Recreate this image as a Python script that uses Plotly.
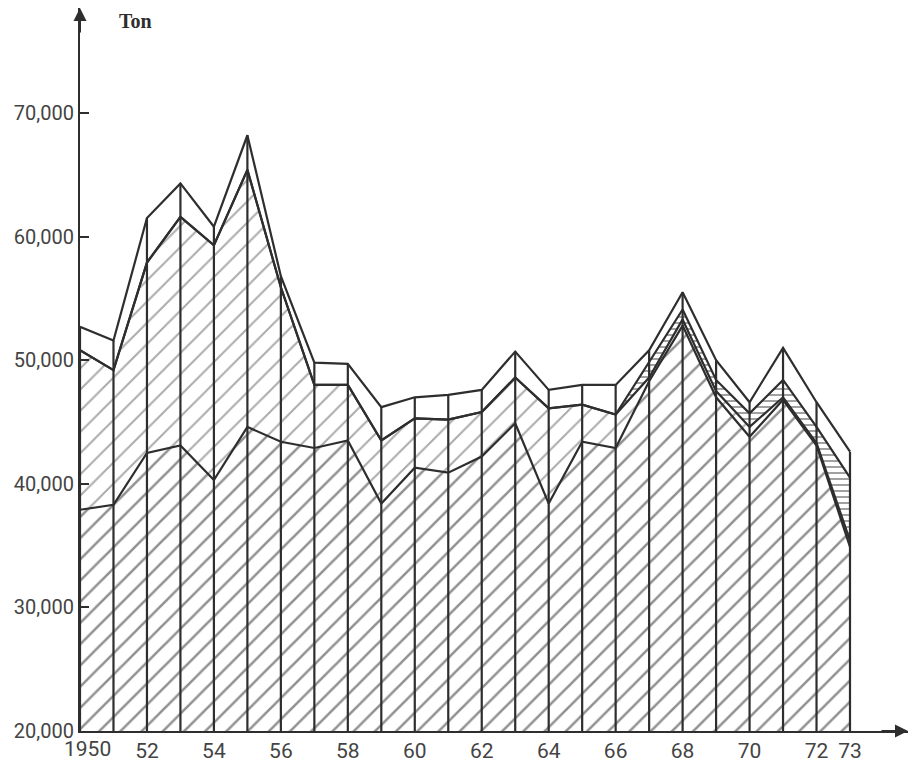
import plotly.graph_objects as go

years = list(range(1950, 1974))

# boundary levels of the stacked layers (tons)
level_bottom = [37900, 38300, 42500, 43100, 40300, 44600, 43400, 42900, 43500, 38400,
                41300, 40900, 42200, 44900, 38400, 43400, 42900, 48300, 52800, 47000,
                43800, 46800, 43100, 34900]
level_dotted = [50800, 49200, 57900, 61600, 59300, 65400, 55900, 48000, 48000, 43500,
                45300, 45200, 45800, 48600, 46100, 46400, 45600, 48600, 53300, 47500,
                44600, 47000, 43300, 35400]
level_striped = [50800, 49200, 57900, 61600, 59300, 65400, 55900, 48000, 48000, 43500,
                 45300, 45200, 45800, 48600, 46100, 46400, 45600, 49800, 54100, 48400,
                 45700, 48400, 44600, 40500]
level_total = [52700, 51600, 61500, 64300, 60800, 68200, 56800, 49800, 49700, 46200,
               47000, 47200, 47600, 50700, 47600, 48000, 48000, 50800, 55500, 50000,
               46600, 51000, 46600, 42600]

y_ticks = [20000, 30000, 40000, 50000, 60000, 70000]
y_ticktext = ["20,000", "30,000", "40,000", "50,000", "60,000", "70,000"]
x_ticks = [1952, 1954, 1956, 1958, 1960, 1962, 1964, 1966, 1968, 1970, 1972, 1973]
x_ticktext = ["52", "54", "56", "58", "60", "62", "64", "66", "68", "70", "72", "73"]

INK = "#2e2e2e"
LW = 2.2
Y0 = 20000

fig = go.Figure()


def band(lower, upper, fillcolor, pattern=None):
    xs = years + years[::-1]
    ys = list(upper) + list(lower)[::-1]
    fig.add_trace(go.Scatter(x=xs, y=ys, mode="none", fill="toself",
                             fillcolor=fillcolor, fillpattern=pattern,
                             hoverinfo="skip", showlegend=False))


base = [Y0] * len(years)
band(base, level_bottom, "white",
     dict(shape="/", size=15, solidity=0.17, fgcolor="#222222", bgcolor="white"))
band(level_bottom, level_dotted, "white",
     dict(shape="/", size=15, solidity=0.13, fgcolor="#555555", bgcolor="white"))
band(level_dotted, level_striped, "white",
     dict(shape="-", size=6, solidity=0.3, fgcolor=INK, bgcolor="white"))
band(level_striped, level_total, "white")

# boundary lines
for lvl in (level_bottom, level_dotted, level_striped, level_total):
    fig.add_trace(go.Scatter(x=years, y=lvl, mode="lines",
                             line=dict(color=INK, width=LW),
                             hoverinfo="skip", showlegend=False))

# vertical year lines
vx, vy = [], []
for yr, top in zip(years, level_total):
    vx += [yr, yr, None]
    vy += [Y0, top, None]
fig.add_trace(go.Scatter(x=vx, y=vy, mode="lines",
                         line=dict(color=INK, width=LW),
                         hoverinfo="skip", showlegend=False))

x_end = 1950 + (908 - 80) / (850 - 80) * 23
y_end = 20000 + (731 - 8) / 123.6 * 10000

fig.update_layout(
    width=902, height=756,
    margin=dict(l=72, r=2, t=0, b=33, autoexpand=False),
    paper_bgcolor="white", plot_bgcolor="white",
    font=dict(family="Roboto", color=INK),
    xaxis=dict(range=[1950, x_end], showgrid=False, zeroline=False, automargin=False,
               showline=True, linecolor=INK, linewidth=LW,
               tickvals=x_ticks, ticktext=x_ticktext, ticks="",
               tickfont=dict(size=21, color="#444444")),
    yaxis=dict(range=[20000, y_end], showgrid=False, zeroline=False, automargin=False,
               showline=True, linecolor=INK, linewidth=LW,
               tickvals=y_ticks, ticktext=y_ticktext, ticks="inside",
               ticklen=9, tickwidth=2, tickcolor=INK,
               tickfont=dict(size=20, color="#444444")),
    annotations=[
        dict(x=1950, y=20000, xref="x", yref="y", text="1950", showarrow=False,
             xanchor="left", yanchor="top", xshift=-18, yshift=-4,
             font=dict(family="Roboto", size=21, color="#444444")),
        dict(x=1951.1, y=y_end, xref="x", yref="y", text="<b>Ton</b>", showarrow=False,
             xanchor="left", yanchor="top", yshift=0,
             font=dict(family="Liberation Serif", size=20, color=INK)),
        dict(x=x_end, y=20000, xref="x", yref="y", text="", showarrow=True,
             ax=-28, ay=0, arrowhead=2, arrowsize=1.3, arrowwidth=2, arrowcolor=INK),
        dict(x=1950, y=y_end, xref="x", yref="y", text="", showarrow=True,
             ax=0, ay=26, arrowhead=2, arrowsize=1.3, arrowwidth=2, arrowcolor=INK),
    ],
)

fig.write_html("out.html")
